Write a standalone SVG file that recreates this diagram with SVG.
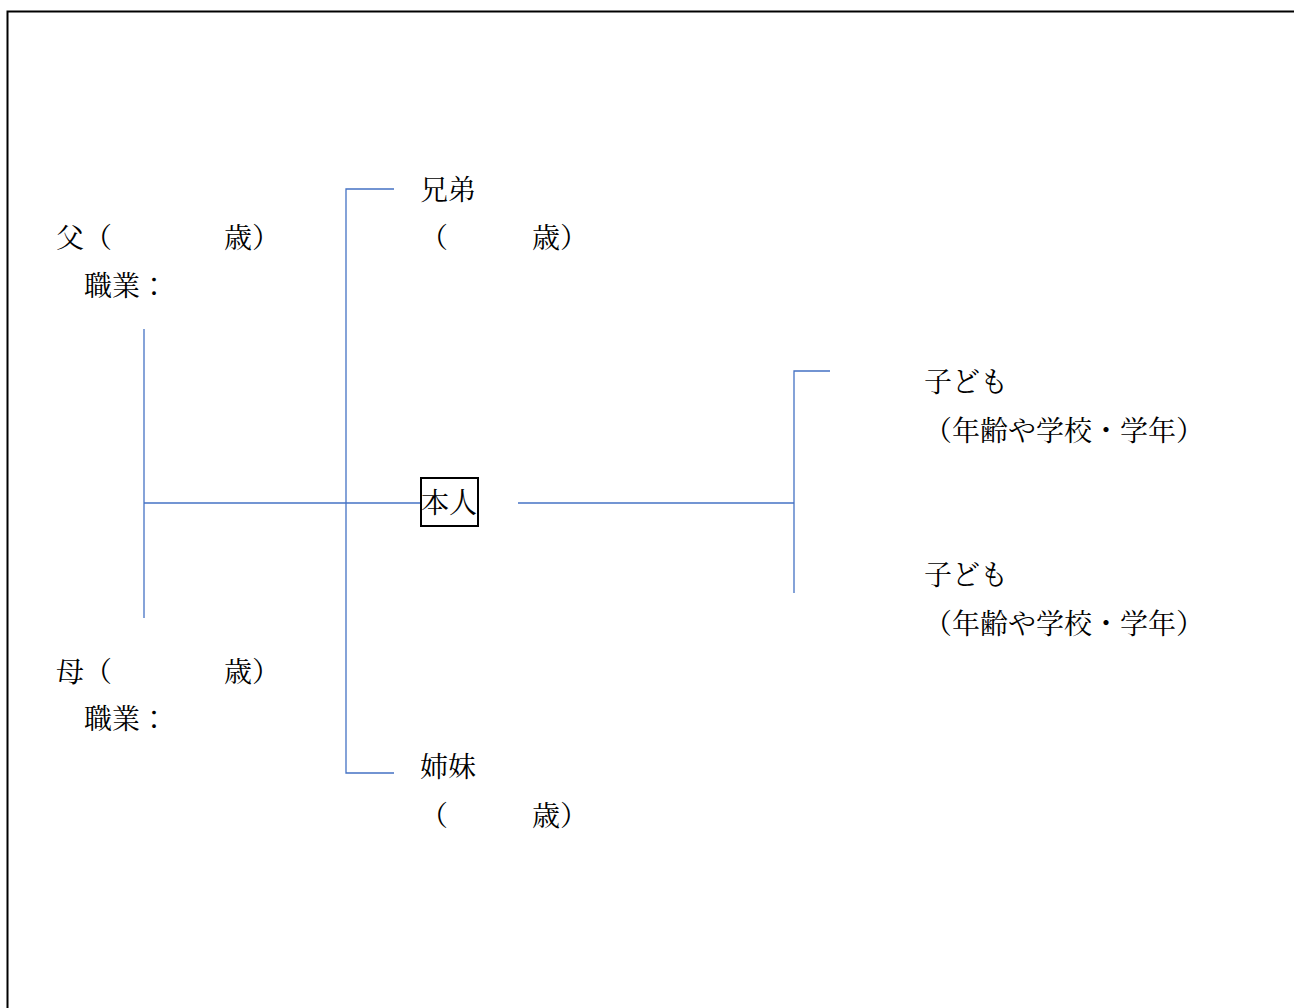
<svg xmlns="http://www.w3.org/2000/svg" width="1294" height="1008" viewBox="0 0 1294 1008">
<style>
.t{font-family:"Noto Serif CJK JP","Noto Sans CJK JP","Liberation Serif",serif;font-size:28px;fill:#000;}
.c{stroke:#4472C4;stroke-width:1.3;fill:none;}
</style>
<rect x="0" y="0" width="1294" height="1008" fill="#fff"/>
<rect id="frame" x="7.5" y="11.5" width="1400" height="1100" fill="none" stroke="#000" stroke-width="2"/>
<g id="connectors">
<line class="c" x1="144" y1="329" x2="144" y2="618"/>
<line class="c" x1="144" y1="503" x2="421" y2="503"/>
<polyline class="c" points="394,189 346,189 346,773 394,773"/>
<line class="c" x1="518" y1="503" x2="794" y2="503"/>
<polyline class="c" points="830,371 794,371 794,593"/>
</g>
<g id="father">
<text class="t" x="56" y="248" xml:space="preserve">父（　　　　歳）</text>
<text class="t" x="84" y="296">職業：</text>
</g>
<g id="mother">
<text class="t" x="56" y="682" xml:space="preserve">母（　　　　歳）</text>
<text class="t" x="84" y="729">職業：</text>
</g>
<g id="brothers">
<text class="t" x="420" y="200">兄弟</text>
<text class="t" x="420" y="248" xml:space="preserve">（　　　歳）</text>
</g>
<g id="sisters">
<text class="t" x="420" y="777">姉妹</text>
<text class="t" x="420" y="826" xml:space="preserve">（　　　歳）</text>
</g>
<g id="self">
<rect x="421" y="478" width="57" height="48" fill="#fff" stroke="#000" stroke-width="2"/>
<text class="t" x="421" y="513">本人</text>
</g>
<g id="child1">
<text class="t" x="924" y="392">子ども</text>
<text class="t" x="924" y="441">（年齢や学校・学年）</text>
</g>
<g id="child2">
<text class="t" x="924" y="585">子ども</text>
<text class="t" x="924" y="634">（年齢や学校・学年）</text>
</g>
</svg>
